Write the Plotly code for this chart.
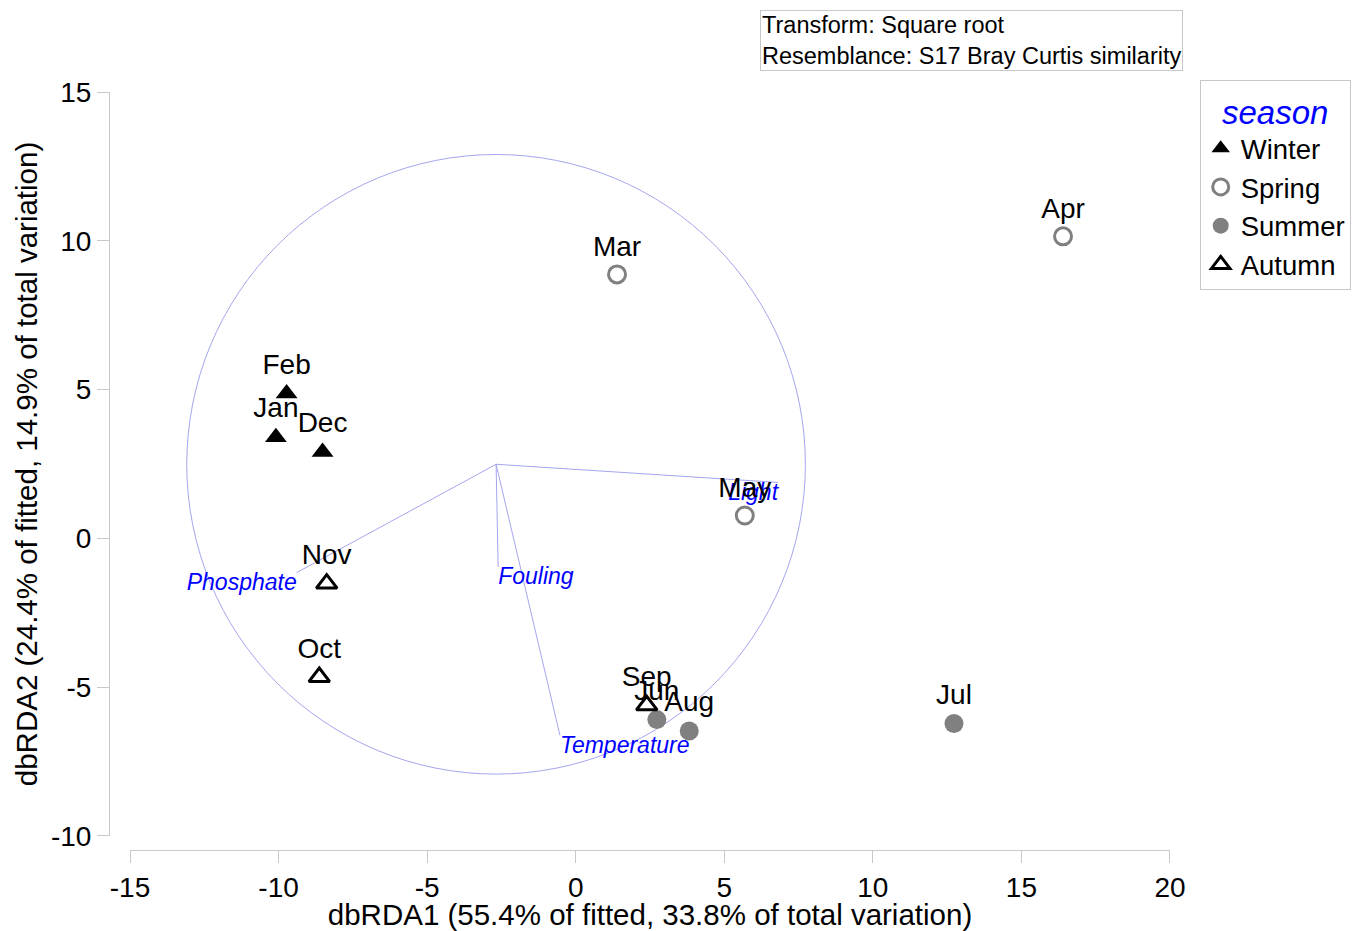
import plotly.graph_objects as go

# dbRDA ordination, one sample per month
months = ["Jan", "Feb", "Mar", "Apr", "May", "Jun", "Jul", "Aug", "Sep", "Oct", "Nov", "Dec"]
seasons = ["Winter", "Winter", "Spring", "Spring", "Spring", "Summer",
           "Summer", "Summer", "Autumn", "Autumn", "Autumn", "Winter"]
dbrda1 = [-10.09, -9.73, 1.39, 16.40, 5.69, 2.73, 12.73, 3.82, 2.39, -8.63, -8.38, -8.52]
dbrda2 = [3.40, 4.87, 8.87, 10.15, 0.77, -6.09, -6.22, -6.47, -5.61, -4.66, -1.52, 2.90]

# predictor vectors (drawn from the centre of the correlation circle)
variables = ["Light", "Fouling", "Temperature", "Phosphate"]
vec_dx = [9.49, 0.07, 2.15, -6.71]
vec_dy = [-0.61, -3.45, -9.11, -3.64]
var_textpos = ["bottom left", "bottom right", "bottom right", "bottom left"]
circle_cx = -2.68
circle_cy = 2.49
circle_r = 10.41

season_order = ["Winter", "Spring", "Summer", "Autumn"]
season_style = {
    "Winter": dict(symbol="triangle-up", size=19, color="black", line=dict(width=0)),
    "Spring": dict(symbol="circle-open", size=17, color="rgb(128,128,128)", line=dict(width=3)),
    "Summer": dict(symbol="circle", size=19, color="rgb(128,128,128)", line=dict(width=0)),
    "Autumn": dict(symbol="triangle-up-open", size=18, color="black", line=dict(width=3)),
}

FONT = "Arial, Liberation Sans, sans-serif"
AXCOL = "rgb(200,200,200)"
BLUE = "rgb(0,0,255)"

fig = go.Figure()

# correlation circle
fig.add_shape(type="circle", xref="x", yref="y",
              x0=circle_cx - circle_r, x1=circle_cx + circle_r,
              y0=circle_cy - circle_r, y1=circle_cy + circle_r,
              line=dict(color="rgb(165,165,240)", width=1), layer="below")

# vectors
lx, ly = [], []
for dx, dy in zip(vec_dx, vec_dy):
    lx += [circle_cx, circle_cx + dx, None]
    ly += [circle_cy, circle_cy + dy, None]
fig.add_trace(go.Scatter(x=lx, y=ly, mode="lines",
                         line=dict(color="rgb(165,165,240)", width=1),
                         showlegend=False, hoverinfo="skip"))
fig.add_trace(go.Scatter(x=[circle_cx + d for d in vec_dx],
                         y=[circle_cy + d for d in vec_dy],
                         mode="text", text=variables, textposition=var_textpos,
                         textfont=dict(family=FONT, size=23, color=BLUE, style="italic"),
                         showlegend=False, hoverinfo="skip"))

# samples by season
for s in season_order:
    idx = [i for i, v in enumerate(seasons) if v == s]
    fig.add_trace(go.Scatter(
        x=[dbrda1[i] for i in idx],
        y=[dbrda2[i] for i in idx],
        text=[months[i] for i in idx],
        mode="markers+text",
        textposition="top center",
        textfont=dict(family=FONT, size=28, color="black"),
        marker=season_style[s],
        name=s,
    ))

ticks_x = [-15, -10, -5, 0, 5, 10, 15, 20]
ticks_y = [-10, -5, 0, 5, 10, 15]

axis_common = dict(showgrid=False, zeroline=False, showline=True, linecolor=AXCOL,
                   linewidth=1, ticks="outside", ticklen=12, tickcolor=AXCOL,
                   tickfont=dict(family=FONT, size=28, color="black"),
                   anchor="free", position=0, automargin=False)

fig.update_layout(
    width=1359, height=923,
    margin=dict(l=101, r=197, t=84, b=81),
    plot_bgcolor="white", paper_bgcolor="white",
    font=dict(family=FONT, color="black"),
    xaxis=dict(axis_common, domain=[0.0198, 1], range=[-15, 20], tickvals=ticks_x,
               ticktext=[str(v) for v in ticks_x],
               title=dict(text="dbRDA1 (55.4% of fitted, 33.8% of total variation)",
                          font=dict(size=29.5), standoff=5)),
    yaxis=dict(axis_common, domain=[0.0185, 1], range=[-10, 15], tickvals=ticks_y,
               ticktext=[str(v) for v in ticks_y],
               title=dict(text="dbRDA2 (24.4% of fitted, 14.9% of total variation)",
                          font=dict(size=29.5), standoff=3)),
    xaxis2=dict(overlaying="x", anchor="free", position=0, range=[-15, 20],
                tickvals=ticks_x, ticks="inside", ticklen=11, tickcolor=AXCOL,
                showticklabels=False, showgrid=False, zeroline=False, showline=False),
    yaxis2=dict(overlaying="y", anchor="free", position=0, range=[-10, 15],
                tickvals=ticks_y, ticks="inside", ticklen=11, tickcolor=AXCOL,
                showticklabels=False, showgrid=False, zeroline=False, showline=False),
    legend=dict(x=1.028, y=1.016, xanchor="left", yanchor="top",
                bordercolor=AXCOL, borderwidth=1, bgcolor="white",
                font=dict(family=FONT, size=27.5, color="black"),
                title=dict(text="season", side="top center",
                           font=dict(family=FONT, size=33, color=BLUE, style="italic")),
                tracegroupgap=0, itemwidth=30),
    annotations=[dict(xref="paper", yref="paper", x=0.6136, y=1.108,
                      xanchor="left", yanchor="top", align="left", showarrow=False,
                      text="Transform: Square root<br>Resemblance: S17 Bray Curtis similarity",
                      font=dict(family=FONT, size=23.5, color="black"),
                      bordercolor=AXCOL, borderwidth=1, borderpad=1, bgcolor="white")],
)

fig.write_html("out.html")
